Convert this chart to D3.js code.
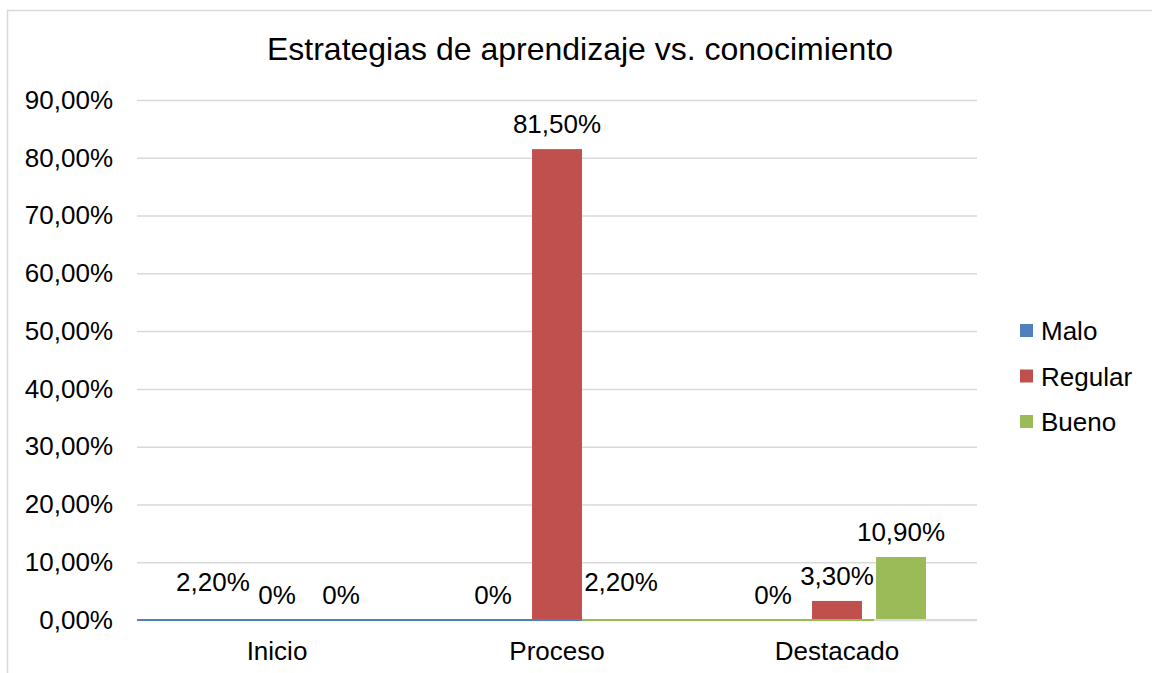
<!DOCTYPE html>
<html lang="es">
<head>
<meta charset="utf-8">
<style>
  body { margin: 0; background: #fff; }
  svg { display: block; font-family: "Liberation Sans", Arial, sans-serif; }
</style>
</head>
<body>
<svg width="1152" height="673"></svg>
<script src="https://cdn.jsdelivr.net/npm/d3@7"></script>
<script>
// categories and series
var categories = ['Inicio', 'Proceso', 'Destacado']
var seriesNames = ['Malo', 'Regular', 'Bueno']
var colors = ['#4f81bd', '#c0504d', '#9bbb59']

// bar heights as drawn in the picture (%)
var malo = [0, 0, 0]
var regular = [0, 81.5, 3.3]
var bueno = [0, 0, 10.9]

// data label values as printed (%)
var maloLabels = [2.2, 0, 0]
var regularLabels = [0, 81.5, 3.3]
var buenoLabels = [0, 2.2, 10.9]

var yTicks = [0, 10, 20, 30, 40, 50, 60, 70, 80, 90]

var svg = d3.select('svg')
var margin = {top: 100, left: 137, right: 175, bottom: 53}
var width = 1152 - margin.left - margin.right
var height = 673 - margin.top - margin.bottom
var fontSize = 26

var esLocale = d3.formatLocale({decimal: ',', thousands: '.', grouping: [3], currency: ['', '€']})
var fmt2 = esLocale.format('.2f')
function labelText (v) { return v === 0 ? '0%' : fmt2(v) + '%' }

// outer chart border
svg.append('rect')
  .attr('x', 7.5).attr('y', 10.5)
  .attr('width', 1160).attr('height', 680)
  .attr('fill', 'none').attr('stroke', '#d9d9d9').attr('stroke-width', 1.5)

svg.append('text')
  .attr('x', 580).attr('y', 60)
  .attr('text-anchor', 'middle')
  .attr('font-size', 32)
  .attr('fill', '#000')
  .text('Estrategias de aprendizaje vs. conocimiento')

var g = svg.append('g').attr('transform', 'translate(' + margin.left + ',' + margin.top + ')')

var x0 = d3.scaleBand().domain(categories).range([0, width]).padding(0)
var groupW = 178
var x1 = d3.scaleBand().domain(seriesNames)
  .range([(x0.bandwidth() - groupW) / 2, (x0.bandwidth() + groupW) / 2])
  .paddingInner(0.22).paddingOuter(0)
var y = d3.scaleLinear().domain([0, 90]).range([height, 0])

// gridlines + y labels
var yAxis = g.append('g')
  .call(d3.axisLeft(y).tickValues(yTicks).tickSize(-width).tickPadding(24).tickFormat(function (d) { return fmt2(d) + '%' }))
yAxis.select('.domain').remove()
yAxis.selectAll('line').attr('stroke', '#d9d9d9').attr('stroke-width', 1.5)
yAxis.selectAll('text').attr('font-size', fontSize).attr('fill', '#000')
  .attr('font-family', '"Liberation Sans", Arial, sans-serif')

var series = [
  {name: 'Malo', values: malo, labels: maloLabels},
  {name: 'Regular', values: regular, labels: regularLabels},
  {name: 'Bueno', values: bueno, labels: buenoLabels}
]
var z = d3.scaleOrdinal().domain(seriesNames).range(colors)

var groups = g.selectAll('.cat')
  .data(categories)
  .enter().append('g')
  .attr('class', 'cat')
  .attr('transform', function (d) { return 'translate(' + x0(d) + ',0)' })

var cells = groups.selectAll('.cell')
  .data(function (c, i) {
    return series.map(function (s) { return {cat: c, key: s.name, value: s.values[i], label: s.labels[i]} })
  })
  .enter().append('g').attr('class', 'cell')

cells.append('rect')
  .attr('x', function (d) { return x1(d.key) })
  .attr('width', x1.bandwidth())
  .attr('y', function (d) { return y(d.value) })
  .attr('height', function (d) { return height - y(d.value) })
  .attr('fill', function (d) { return z(d.key) })

cells.append('text')
  .attr('x', function (d) { return x1(d.key) + x1.bandwidth() / 2 })
  .attr('y', function (d) { return y(d.label) - 16 })
  .attr('text-anchor', 'middle')
  .attr('font-size', fontSize)
  .attr('fill', '#000')
  .text(function (d) { return labelText(d.label) })

// baseline, coloured like the source
var procRight = x0('Proceso') + x1('Regular') + x1.bandwidth()
var destLeft = x0('Destacado') + x1('Bueno')
g.append('line').attr('x1', 0).attr('x2', width).attr('y1', height).attr('y2', height)
  .attr('stroke', '#d9d9d9').attr('stroke-width', 2)
g.append('line').attr('x1', 0).attr('x2', procRight).attr('y1', height).attr('y2', height)
  .attr('stroke', colors[0]).attr('stroke-width', 2)
g.append('line').attr('x1', procRight).attr('x2', destLeft - 2).attr('y1', height).attr('y2', height)
  .attr('stroke', colors[2]).attr('stroke-width', 2)

// category labels
g.append('g').selectAll('text')
  .data(categories)
  .enter().append('text')
  .attr('x', function (d) { return x0(d) + x0.bandwidth() / 2 })
  .attr('y', height + 40)
  .attr('text-anchor', 'middle')
  .attr('font-size', fontSize)
  .attr('fill', '#000')
  .text(function (d) { return d })

// legend
var legend = svg.append('g').attr('transform', 'translate(1020,324)')
var li = legend.selectAll('g')
  .data(seriesNames)
  .enter().append('g')
  .attr('transform', function (d, i) { return 'translate(0,' + i * 45.5 + ')' })
li.append('rect').attr('width', 13).attr('height', 13).attr('fill', z)
li.append('text').attr('x', 21).attr('y', 7).attr('dy', '0.35em')
  .attr('font-size', fontSize).attr('fill', '#000')
  .text(function (d) { return d })
</script>
</body>
</html>
